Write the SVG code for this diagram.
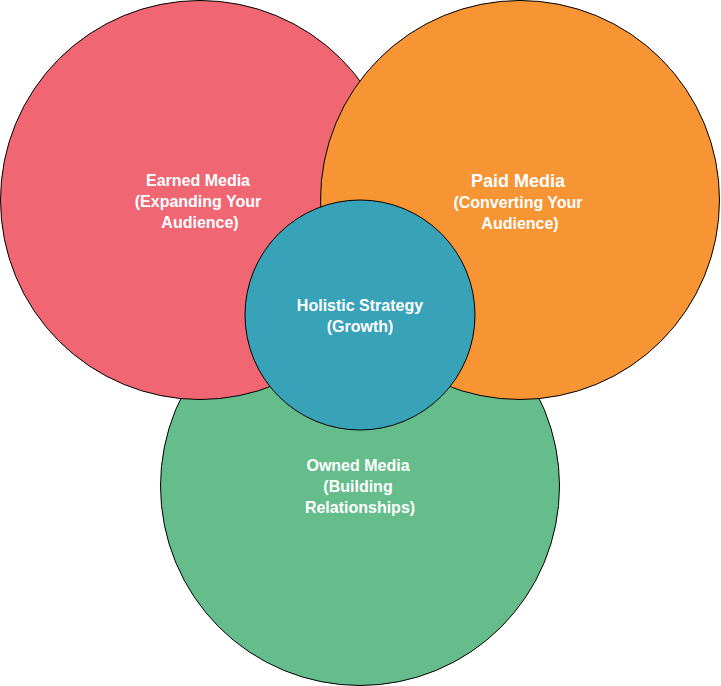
<svg xmlns="http://www.w3.org/2000/svg" width="721" height="686" viewBox="0 0 721 686">
<style>
circle{stroke:#000;stroke-width:1}
text{font-family:"Liberation Sans",Arial,sans-serif;font-weight:bold;fill:#fff;font-size:16px;text-anchor:middle}
</style>
<rect width="721" height="686" fill="#fff"/>
<g id="owned"><circle cx="360" cy="486" r="199.5" fill="#66bd8c"/>
<text x="358" y="471">Owned Media</text><text x="358" y="492">(Building</text><text x="360" y="513">Relationships)</text></g>
<g id="earned"><circle cx="200" cy="200" r="199.5" fill="#f06673"/>
<text x="198" y="186">Earned Media</text><text x="198" y="207">(Expanding Your</text><text x="200" y="228">Audience)</text></g>
<g id="paid"><circle cx="520" cy="200" r="199.5" fill="#f79433"/>
<text x="518" y="187" style="font-size:18px">Paid Media</text><text x="518" y="208">(Converting Your</text><text x="520" y="229">Audience)</text></g>
<g id="holistic"><circle cx="360" cy="315" r="115" fill="#38a3b8"/>
<text x="360" y="311">Holistic Strategy</text><text x="360" y="332">(Growth)</text></g>
<g id="connectors"/>
</svg>
